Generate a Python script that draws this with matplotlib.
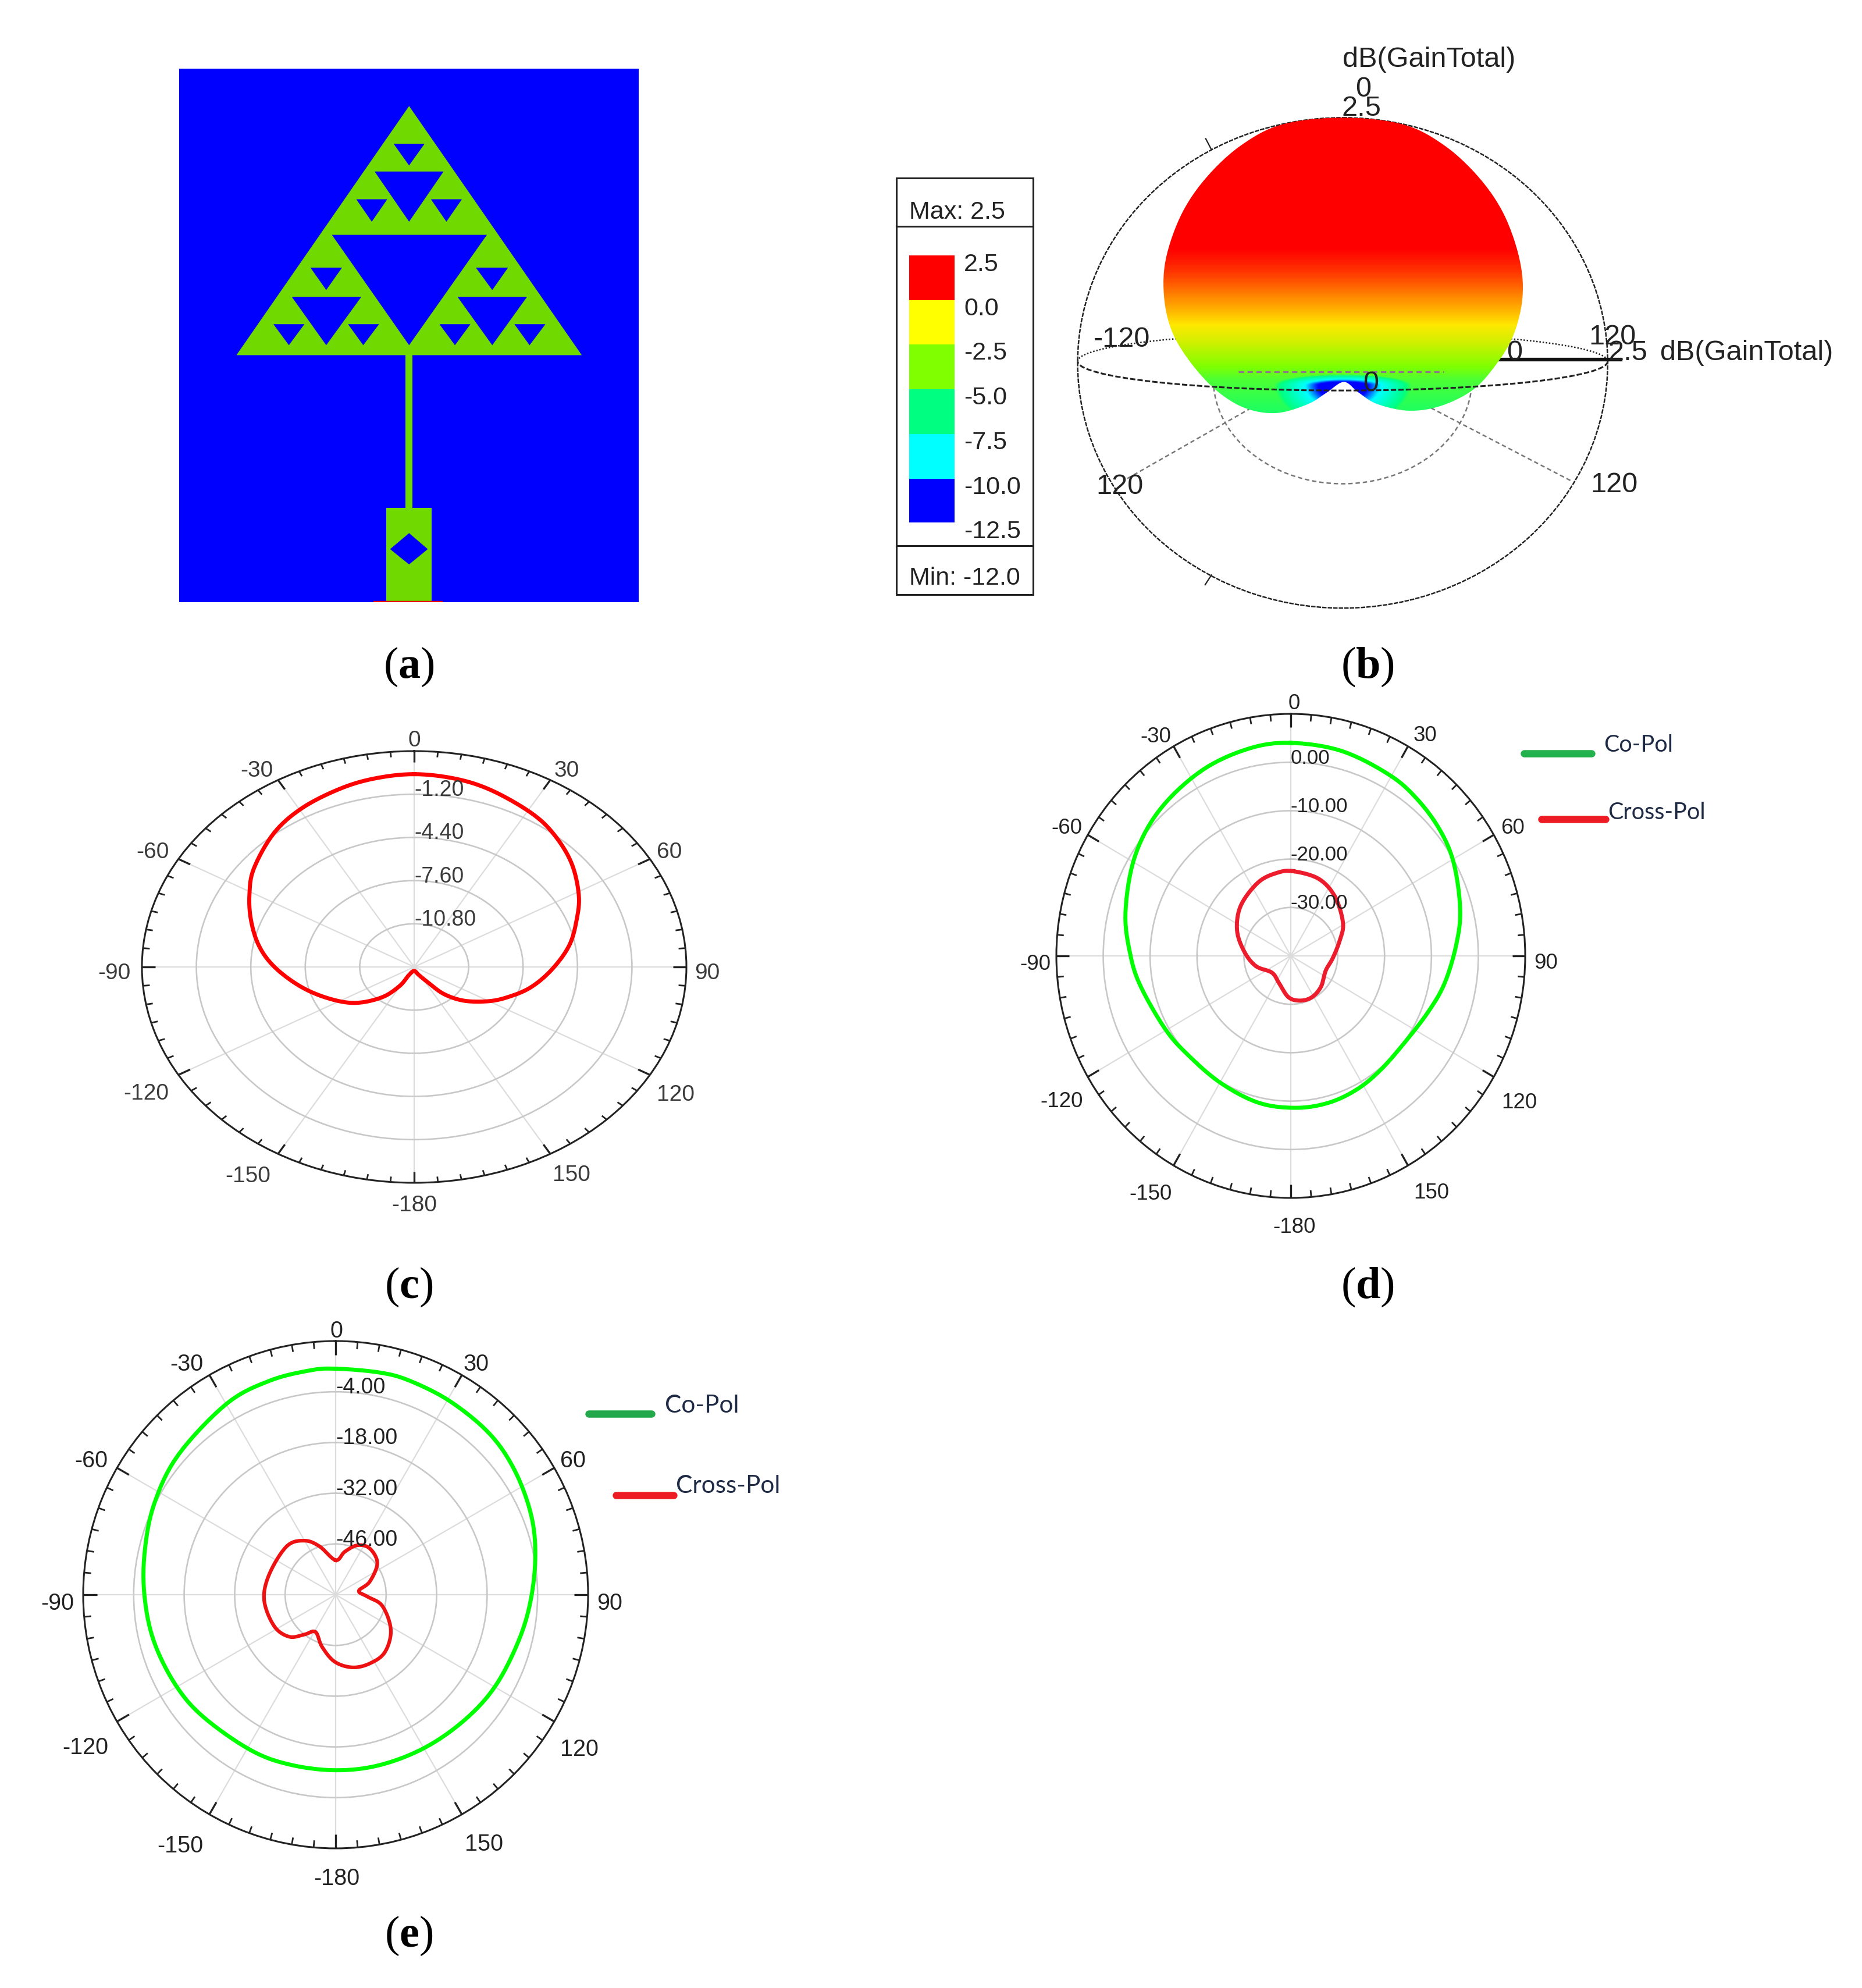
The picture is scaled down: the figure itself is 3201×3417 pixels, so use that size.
import numpy as np
import matplotlib
matplotlib.use("Agg")
import matplotlib.pyplot as plt
from matplotlib.colors import LinearSegmentedColormap
from matplotlib.patches import Polygon, Rectangle, Ellipse, Arc, PathPatch
from matplotlib.path import Path

plt.rcParams['font.family'] = ['Liberation Sans', 'DejaVu Sans']
plt.rcParams['mathtext.fontset'] = 'custom'
plt.rcParams['mathtext.bf'] = 'Liberation Serif:bold'
plt.rcParams['mathtext.rm'] = 'Liberation Serif'

W, H = 3201, 3417
VIEW = W / 1466.0  # label positions below are measured on a 1466 px wide view

# ---------- data: panel (a) antenna layout ----------
tri_apex = (779, 133)
tri_left = (233, 833)
tri_right = (1325, 833)
holes = [
    [(535, 495), (1025, 495), (779, 805)],
    [(670, 317), (888, 317), (779, 458)],
    [(408, 669), (628, 669), (517, 805)],
    [(932, 669), (1152, 669), (1042, 805)],
    [(730, 239), (828, 239), (779, 300)],
    [(612, 395), (710, 395), (661, 458)],
    [(848, 395), (946, 395), (897, 458)],
    [(467, 587), (567, 587), (517, 650)],
    [(350, 746), (448, 746), (399, 805)],
    [(586, 746), (684, 746), (634, 805)],
    [(990, 587), (1092, 587), (1042, 650)],
    [(875, 746), (973, 746), (924, 805)],
    [(1112, 746), (1210, 746), (1160, 805)],
]
feed_box = (768, 833, 22, 430)
patch_box = (707, 1262, 144, 265)
diamond = [(779, 1333), (838, 1378), (779, 1421), (719, 1378)]
ground_line = (668, 882, 1526)

# ---------- data: panel (b) 3D pattern ----------
legend_gain_labels = ['2.5', '0.0', '-2.5', '-5.0', '-7.5', '-10.0', '-12.5']
legend_colors = ['#ff0000', '#ffff00', '#80ff00', '#00ff80', '#00ffff', '#0000ff']
lobe_x = [745, 840, 905, 960, 1000, 1025, 1030, 1015, 985, 950, 900, 850, 800, 770, 747,
          720, 690, 640, 590, 545, 505, 475, 462, 465, 490, 530, 585, 650]
lobe_y = [228, 245, 298, 380, 475, 590, 690, 790, 870, 930, 970, 982, 965, 935, 908,
          935, 965, 988, 975, 930, 860, 780, 690, 590, 475, 380, 298, 245]
row_y = [228, 560, 620, 680, 750, 800, 850, 900, 990]
row_gain = [2.5, 2.5, 1.9, 1.0, -0.3, -1.5, -3.0, -4.5, -5.5]
notch_dist = [0, 35, 60, 100, 160]
notch_gain = [-12.5, -11.5, -8.5, -6.0, 2.5]

# ---------- data: panel (c) ----------
c_theta = [0, 9.9, 19.1, 30.8, 39.6, 50, 61, 70, 80.3, 91.7, 102.8, 112.6, 120.7, 130.6, 138.9, 144.4, 155.3, 180,
           -152.8, -148.7, -139.8, -127.3, -114.3, -102, -90, -80.3, -70.2, -61, -52.2, -39.7, -29.3, -18.5, -9.6]
c_gain = [0.29, 0.16, -0.14, -0.66, -1.17, -1.95, -2.94, -3.84, -4.77, -5.94, -7.02, -8.11, -9.01, -10.16, -11.33,
          -12.54, -13.34, -13.7, -13.33, -12.34, -11.04, -9.6, -8.4, -7.14, -5.79, -4.75, -3.81, -2.93, -2.08, -1.10,
          -0.51, -0.10, 0.16]
c_rings = [-10.8, -7.6, -4.4, -1.2]
c_ring_labels = ['-10.80', '-7.60', '-4.40', '-1.20']
c_label_x = [326, 446, 527, 557, 532, 450, 326, 195, 115, 90, 120, 202]
c_label_y = [583, 607, 671, 766, 862, 925, 949, 926, 861, 766, 671, 607]

# ---------- data: panel (d) ----------
d_co_theta = [0, 14.4, 29.3, 39.7, 50.6, 61.1, 75, 86.1, 99.7, 111.6, 127.1, 141.6, 153.4, 165.4, 178.2,
              -167.1, -150.1, -132.7, -119.4, -101.3, -89.7, -75.6, -58.2, -42.7, -26.3, -11.8]
d_co_gain = [4.0, 3.7, 2.9, 2.15, 1.1, -0.3, -2.6, -4.6, -6.7, -8.5, -9.85, -9.6, -9.0, -8.6, -8.6,
             -8.9, -9.8, -10.0, -9.25, -7.4, -5.8, -3.6, -0.9, 1.15, 2.75, 3.75]
d_x_theta = [1.6, 20.5, 37.6, 58.6, 73.2, 93.2, 112.3, 134.5, 152.2, 167.8, -176.7, -155.9, -130.8, -105.7,
             -84.5, -65, -45.6, -24.6, -9.9]
d_x_gain = [-22.5, -23, -24.55, -26.95, -29.1, -31.05, -31.95, -30.95, -30.35, -30.55, -31.45, -33.85, -34.7,
            -32.25, -30, -27.35, -25.1, -23.3, -22.6]
d_rings = [-30, -20, -10, 0]
d_ring_labels = ['-30.00', '-20.00', '-10.00', '0.00']
d_label_x = [1019, 1122, 1191, 1217, 1196, 1127, 1019, 906, 836, 815, 840, 910]
d_label_y = [554, 579, 652, 758, 868, 939, 966, 940, 867, 759, 652, 580]

# ---------- data: panel (e) ----------
e_co_theta = [0, 11.2, 19.2, 30.8, 43.9, 55.4, 67.8, 78.9, 91.6, 104.2, 119.6, 133.7, 149.5, 165.4, 180,
              -164.7, -151, -132.5, -119.2, -104.3, -90.5, -77.4, -63.5, -48.5, -29.8, -17.3, -6.6]
e_co_gain = [2.37, 2.51, 2.51, 2.09, 1.6, 0.34, -1.48, -3.58, -5.89, -7.71, -9.04, -10.23, -11.07, -11.42, -11.56,
             -11.42, -11.07, -10.16, -9.11, -7.99, -7.01, -5.75, -3.79, -1.76, 0.76, 1.81, 2.3]
e_x_theta = [0, 12, 23.8, 36.4, 52.9, 69.3, 80.7, 93.2, 103.4, 122.4, 139.3, 153.5, 167, -179.1, -165.2, -151.4,
             -141.9, -132.2, -117.2, -94.4, -72.9, -45.3, -30, -18.5]
e_x_gain = [-50.48, -47.89, -45.09, -44.11, -45.51, -49.92, -53.49, -51.25, -46.7, -41.87, -39.07, -38.79, -39.42,
            -41.52, -45.16, -48.31, -46.07, -42.71, -40.89, -40.12, -40.75, -40.96, -42.78, -45.93]
e_rings = [-46, -32, -18, -4]
e_ring_labels = ['-46.00', '-32.00', '-18.00', '-4.00']
e_label_x = [265, 375, 451, 480, 456, 381, 265, 142, 67, 45, 72, 147]
e_label_y = [1048, 1074, 1150, 1262, 1377, 1452, 1479, 1453, 1376, 1262, 1150, 1074]

theta_ticks = list(range(0, 360, 30))
theta_labels = ['0', '30', '60', '90', '120', '150', '-180', '-150', '-120', '-90', '-60', '-30']
panel_names = ['a', 'b', 'c', 'd', 'e']

fig = plt.figure(figsize=(W / 100, H / 100), dpi=100, facecolor='white')


def px_axes(x, y, w, h, **kw):
    return fig.add_axes([x / W, 1 - (y + h) / H, w / W, h / H], **kw)


# ---------- panel (a) ----------
axa = px_axes(308, 118, 790, 917)
axa.set_xlim(52, 1505)
axa.set_ylim(1527, 28)
axa.set_facecolor('#0000ff')
axa.set_xticks([])
axa.set_yticks([])
for s in axa.spines.values():
    s.set_visible(False)
GREEN = '#6fd900'
axa.add_patch(Polygon([tri_apex, tri_left, tri_right], closed=True, fc=GREEN, ec='none'))
for h in holes:
    axa.add_patch(Polygon(h, closed=True, fc='#0000ff', ec='none'))
axa.add_patch(Rectangle(feed_box[:2], feed_box[2], feed_box[3], fc=GREEN, ec='none'))
axa.add_patch(Rectangle(patch_box[:2], patch_box[2], patch_box[3], fc=GREEN, ec='none'))
axa.add_patch(Polygon(diamond, closed=True, fc='#0000ff', ec='none'))
axa.plot(ground_line[:2], [ground_line[2]] * 2, color='#e00000', lw=2.5)


# ---------- panel (b) ----------
def closed_smooth(xs, ys, n=14):
    p = np.column_stack([xs, ys]).astype(float)
    out = []
    N = len(p)
    for i in range(N):
        p0, p1, p2, p3 = p[(i - 1) % N], p[i], p[(i + 1) % N], p[(i + 2) % N]
        for t in np.linspace(0, 1, n, endpoint=False):
            out.append(0.5 * ((2 * p1) + (-p0 + p2) * t + (2 * p0 - 5 * p1 + 4 * p2 - p3) * t ** 2
                              + (-p0 + 3 * p1 - 3 * p2 + p3) * t ** 3))
    out.append(out[0])
    return np.array(out)


axb = px_axes(1500, 50, 1701, 1050)
axb.axis('off')
WIRE = '#222222'
GREY = '#777777'
axb.add_patch(Ellipse((745, 859), 840, 1262, fc='none', ec=WIRE, lw=1.8, ls=(0, (3, 0.8)), zorder=2))
axb.add_patch(Arc((745, 855), 840, 150, theta1=180, theta2=360, ec=WIRE, lw=1.8, ls=(0, (1, 1.2)), zorder=2))
axb.add_patch(Arc((745, 900), 410, 540, theta1=0, theta2=180, ec=GREY, lw=1.8, ls=(0, (3, 2)), zorder=2))
axb.plot([600, 400], [975, 1160], color=GREY, lw=1.8, ls=(0, (3, 2)), zorder=2)
axb.plot([885, 1110], [975, 1165], color=GREY, lw=1.8, ls=(0, (3, 2)), zorder=2)
axb.plot([990, 1185], [850, 850], color='#111111', lw=4.5, zorder=2)
axb.plot([528, 537], [282, 310], color=WIRE, lw=1.6, zorder=2)
axb.plot([527, 537], [1430, 1405], color=WIRE, lw=1.6, zorder=2)

cmap = LinearSegmentedColormap.from_list('gain', [
    (0.0, '#0000ff'), (1.5 / 15, '#0000ff'), (4 / 15, '#00ffff'), (6.5 / 15, '#00ff80'),
    (9 / 15, '#80ff00'), (12 / 15, '#ffe800'), (13.5 / 15, '#ff8000'), (1.0, '#ff0000')])
gx, gy = np.meshgrid(np.arange(440, 1050, 3.0), np.arange(220, 1000, 3.0))
gain_rows = np.interp(gy, row_y, row_gain)
dy_notch = gy - 915
dy_notch = np.where(dy_notch < 0, dy_notch * 4, dy_notch)
gain_notch = np.interp(np.hypot(gx - 745, dy_notch), notch_dist, notch_gain)
Z = np.minimum(gain_rows, gain_notch)
im = axb.imshow(Z, extent=(440, 1050, 1000, 220), cmap=cmap, vmin=-12.5, vmax=2.5, aspect='auto',
                interpolation='bilinear', zorder=3)
outline = closed_smooth(lobe_x, lobe_y)
im.set_clip_path(PathPatch(Path(outline), transform=axb.transData))
axb.add_patch(Arc((745, 855), 840, 150, theta1=0, theta2=180, ec=WIRE, lw=2.2, ls=(0, (3, 1.2)), zorder=4))
axb.plot([580, 905], [882, 882], color='#8a7a8a', lw=2.2, ls=(0, (3, 2)), zorder=4)
axb.set_xlim(0, 1568)
axb.set_ylim(1572, 0)

tb = dict(fontsize=35, color='#222222', ha='center', va='center', zorder=6)
for x, y, s in [(882, 78, 'dB(GainTotal)'), (778, 155, '0'), (775, 205, '2.5'), (395, 798, '-120'),
                (1172, 793, '120'), (1197, 833, '2.5'), (1385, 833, 'dB(GainTotal)'), (1017, 833, '0'),
                (790, 913, '0'), (392, 1178, '120'), (1175, 1173, '120')]:
    axb.text(x, y, s, **tb)

axb.add_patch(Rectangle((38, 383), 216, 1072, fc='white', ec='#222222', lw=2.2, zorder=5))
for yy in (508, 1330):
    axb.plot([38, 254], [yy, yy], color='#222222', lw=2.2, zorder=6)
tops = [583, 697, 812, 927, 1042, 1157, 1270]
for i, col in enumerate(legend_colors):
    axb.add_patch(Rectangle((58, tops[i]), 72, tops[i + 1] - tops[i], fc=col, ec='none', zorder=6))
label_ys = [606, 720, 834, 949, 1064, 1179, 1294]
for s, y in zip(legend_gain_labels, label_ys):
    axb.text(145, y, s, fontsize=31, color='#222222', ha='left', va='center', zorder=7)
axb.text(58, 471, 'Max: 2.5', fontsize=31, color='#222222', ha='left', va='center', zorder=7)
axb.text(58, 1414, 'Min: -12.0', fontsize=31, color='#222222', ha='left', va='center', zorder=7)


# ---------- polar panels ----------
def polar_panel(cx, cy, rx, ry, rmin, rmax, rings, ring_labels, rfs, tcol, maj, mnr):
    ax = px_axes(cx - rx, cy - ry, 2 * rx, 2 * ry, projection='polar')
    ax.set_aspect('auto')
    ax.set_theta_zero_location('N')
    ax.set_theta_direction(-1)
    ax.set_rlim(rmin, rmax)
    ax.set_xticks(np.deg2rad(theta_ticks))
    ax.set_xticklabels([])
    ax.set_yticks(rings)
    ax.set_yticklabels([])
    ax.tick_params(axis='x', length=0)
    ax.tick_params(axis='y', length=0)
    ax.xaxis.grid(True, color='#dcdcdc', lw=1.6)
    ax.yaxis.grid(True, color='#c8c8c8', lw=1.9)
    ax.spines['polar'].set_color('#222222')
    ax.spines['polar'].set_linewidth(2.2)
    span = rmax - rmin
    tks = np.deg2rad(np.arange(0, 360, 5))
    is_major = np.arange(0, 360, 5) % 30 == 0
    ax.vlines(tks[is_major], rmax - maj * span, rmax, color='#222222', lw=2.4, zorder=2.7)
    ax.vlines(tks[~is_major], rmax - mnr * span, rmax, color='#222222', lw=2.0, zorder=2.7)
    ax.set_rlim(rmin, rmax)
    for r, s in zip(rings, ring_labels):
        ax.annotate(s, xy=(0, r), xytext=(0, 5), textcoords='offset points', ha='left', va='center',
                    fontsize=rfs, color=tcol, zorder=4, annotation_clip=False)
    return ax


def curve(ax, th, g, col, lw):
    rmin, rmax = ax.get_rmin(), ax.get_rmax()
    span = rmax - rmin
    t = np.deg2rad(th)
    rf = (np.asarray(g, float) - rmin) / span
    xy = closed_smooth(rf * np.sin(t), rf * np.cos(t), n=8)
    ax.plot(np.arctan2(xy[:, 0], xy[:, 1]), np.hypot(xy[:, 0], xy[:, 1]) * span + rmin,
            color=col, lw=lw, solid_joinstyle='round', zorder=3)
    ax.set_rlim(rmin, rmax)


axc = polar_panel(712, 1662, 468, 371, -14, 2, c_rings, c_ring_labels, 27, '#3a3a3a', 0.05, 0.025)
curve(axc, c_theta, c_gain, '#ff0000', 5)

axd = polar_panel(2219, 1643, 403, 416, -40, 10, d_rings, d_ring_labels, 25, '#222222', 0.055, 0.028)
curve(axd, d_co_theta, d_co_gain, '#00ff00', 5)
curve(axd, d_x_theta, d_x_gain, '#ed1c2c', 5)

axe = polar_panel(577, 2741, 434, 436, -60, 10, e_rings, e_ring_labels, 27, '#222222', 0.055, 0.028)
curve(axe, e_co_theta, e_co_gain, '#00ff00', 5)
curve(axe, e_x_theta, e_x_gain, '#ee1111', 4.5)

# ---------- overlay: theta labels, hand-drawn legends, captions ----------
axo = fig.add_axes([0, 0, 1, 1], facecolor='none')
axo.set_xlim(0, W)
axo.set_ylim(H, 0)
axo.axis('off')

for xs, ys, fs, col in [(c_label_x, c_label_y, 28, '#3a3a3a'),
                        (d_label_x, d_label_y, 26.5, '#222222'),
                        (e_label_x, e_label_y, 28.5, '#222222')]:
    for x, y, s in zip(xs, ys, theta_labels):
        axo.text(x * VIEW, y * VIEW, s, fontsize=fs, color=col, ha='center', va='center')

lg = dict(lw=9, solid_capstyle='round')
axo.plot([2620, 2736], [1295, 1295], color='#22b14c', **lg)
axo.plot([2650, 2760], [1408, 1408], color='#ed1c24', **lg)
axo.plot([1012, 1120], [2430, 2430], color='#22a84a', **lg)
axo.plot([1059, 1158], [2570, 2570], color='#ed1c24', **lg)
tl = dict(family=['Lato', 'Liberation Sans'], color='#1f2a44', ha='left', va='center')
axo.text(2757, 1281, 'Co-Pol', fontsize=28.5, **tl)
axo.text(2764, 1397, 'Cross-Pol', fontsize=28.5, **tl)
axo.text(1143, 2416, 'Co-Pol', fontsize=30.5, **tl)
axo.text(1162, 2554, 'Cross-Pol', fontsize=30.5, **tl)

cap_x = [703, 2351, 703, 2351, 703]
cap_y = [1146, 1146, 2212, 2212, 3327]
for name, x, y in zip(panel_names, cap_x, cap_y):
    axo.text(x, y, r'($\mathbf{%s}$)' % name, family='Liberation Serif', fontsize=55, color='black',
             ha='center', va='center')

fig.savefig('out.png', dpi=100)
